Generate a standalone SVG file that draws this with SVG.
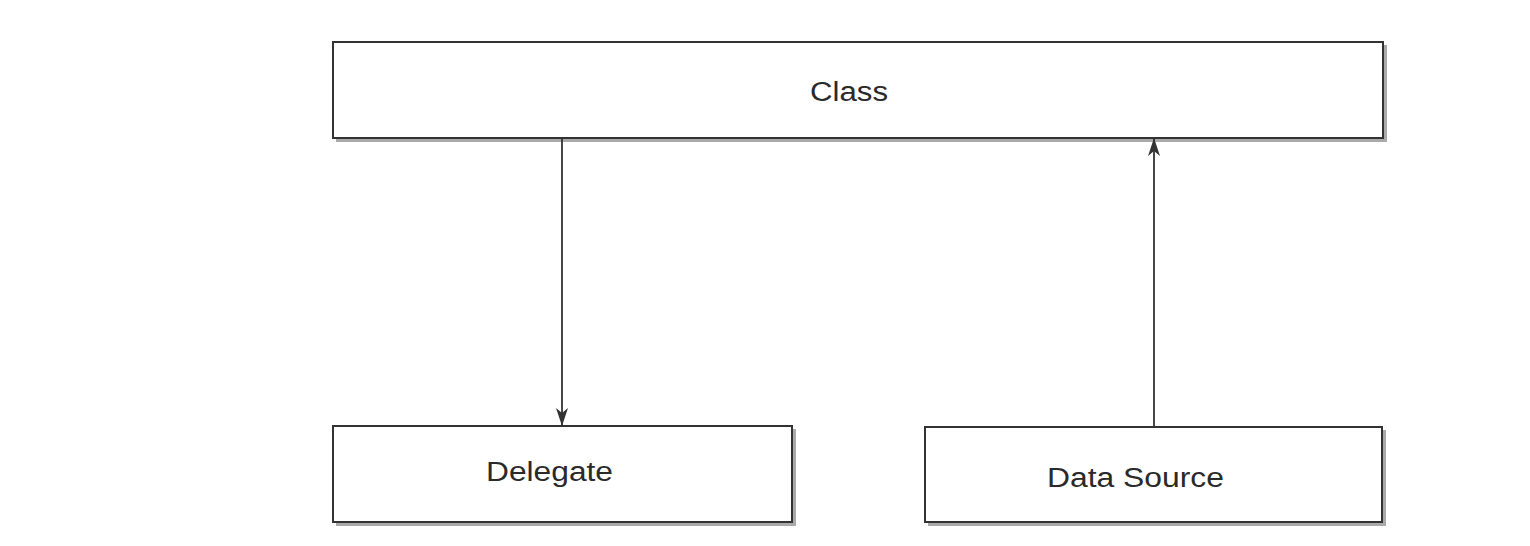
<svg xmlns="http://www.w3.org/2000/svg" width="1530" height="546" viewBox="0 0 1530 546">
<defs>
<style>
.box{fill:#fff;stroke:#333;stroke-width:2}
.sh{fill:none;stroke:#aaa;stroke-width:3}
.lbl{font-family:"Liberation Sans",Arial,sans-serif;font-size:27px;fill:#2a2a2a;text-anchor:middle}
.conn{stroke:#333;stroke-width:1.8;fill:none}
</style>
<marker id="ah2" viewBox="0 0 18 12" refX="17" refY="6" markerWidth="18" markerHeight="12" markerUnits="userSpaceOnUse" orient="auto">
<path d="M0,0 L18,6 L0,12 L5,6 Z" fill="#333"/>
</marker>
</defs>
<rect width="1530" height="546" fill="#fff"/>
<g id="class">
<polyline class="sh" points="336,140.5 1385.5,140.5 1385.5,45"/>
<rect class="box" x="333" y="42" width="1050" height="96"/>
<text class="lbl" x="849" y="101" textLength="78" lengthAdjust="spacingAndGlyphs">Class</text>
</g>
<g id="delegate">
<polyline class="sh" points="336,524.5 794.5,524.5 794.5,429"/>
<rect class="box" x="333" y="426" width="459" height="96"/>
<text class="lbl" x="549.5" y="481" textLength="127" lengthAdjust="spacingAndGlyphs">Delegate</text>
</g>
<g id="datasource">
<polyline class="sh" points="928,524.5 1384.5,524.5 1384.5,430"/>
<rect class="box" x="925" y="427" width="457" height="95"/>
<text class="lbl" x="1135.5" y="487" textLength="177" lengthAdjust="spacingAndGlyphs">Data Source</text>
</g>
<g id="connectors">
<line class="conn" x1="562" y1="139" x2="562" y2="425" marker-end="url(#ah2)"/>
<line class="conn" x1="1154" y1="426" x2="1154" y2="139" marker-end="url(#ah2)"/>
</g>
</svg>
